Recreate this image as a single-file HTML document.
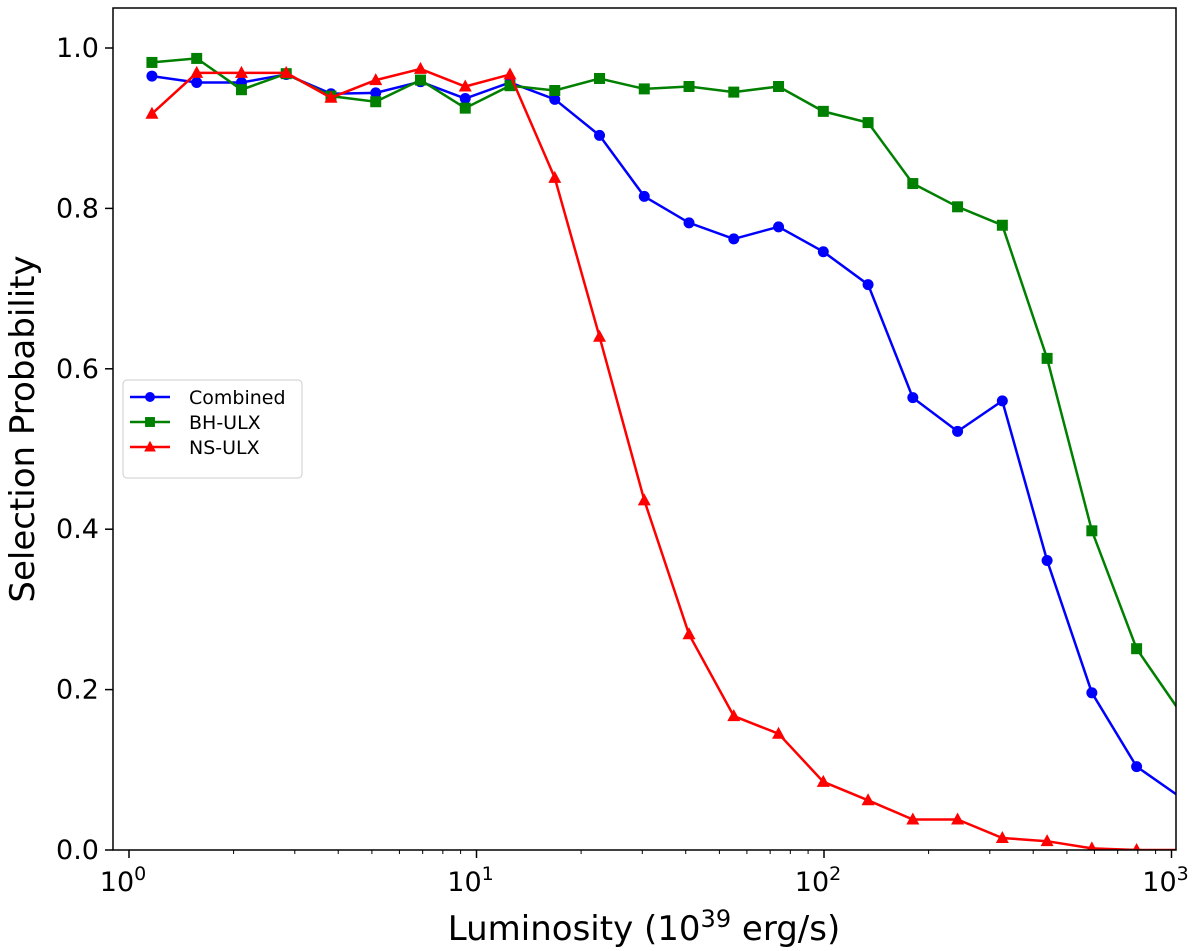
<!DOCTYPE html>
<html><head><meta charset="utf-8"><style>
html,body{margin:0;padding:0;background:#fff;}
svg{display:block;font-family:"DejaVu Sans","Liberation Sans",sans-serif;}
</style></head><body>
<svg id="chart" width="1200" height="951"></svg>
<script>
const lumExp=[];for(let i=0;i<24;i++)lumExp.push(0.066+0.1288*i);
const luminosity=lumExp.map(e=>Math.pow(10,e));
const combined=[0.965,0.957,0.957,0.967,0.943,0.944,0.958,0.937,0.957,0.936,0.891,0.815,0.782,0.762,0.777,0.746,0.705,0.564,0.522,0.560,0.361,0.196,0.104,0.065];
const bhUlx=[0.982,0.987,0.948,0.968,0.940,0.933,0.960,0.925,0.953,0.947,0.962,0.949,0.952,0.945,0.952,0.921,0.907,0.831,0.802,0.779,0.613,0.398,0.251,0.170];
const nsUlx=[0.918,0.969,0.969,0.969,0.938,0.960,0.974,0.952,0.967,0.838,0.640,0.436,0.269,0.167,0.145,0.085,0.062,0.038,0.038,0.015,0.011,0.002,0.0,0.0];
const yTicks=[0.0,0.2,0.4,0.6,0.8,1.0];
const xDecades=[0,1,2,3];

const NS="http://www.w3.org/2000/svg";
const svg=document.getElementById('chart');
const L=113,R=1176,T=8,B=850;
const x0=129,dec=347.5;
const X=v=>x0+Math.log10(v)*dec;
const Y=v=>850-v*802;
function mk(t,a,p){const e=document.createElementNS(NS,t);for(const k in a)e.setAttribute(k,a[k]);(p||svg).appendChild(e);return e;}
const defs=mk('defs',{});
const cp=mk('clipPath',{id:'clip'},defs);mk('rect',{x:L,y:T,width:R-L,height:B-T},cp);

yTicks.forEach(v=>{
 const y=Y(v);
 const t=mk('line',{x1:L-8,x2:L,y1:y,y2:y,stroke:'#000','stroke-width':1.5});
 
 
 const tx=mk('text',{x:L-14,y:y+9,'text-anchor':'end','font-size':27});
 tx.textContent=v.toFixed(1);
 
 
});
xDecades.forEach(d=>{
 const x=X(Math.pow(10,d));
 const t=mk('line',{x1:x,x2:x,y1:B,y2:B+8,stroke:'#000','stroke-width':1.5});
 
 
 const tx=mk('text',{x:x-6,y:B+41,'text-anchor':'middle','font-size':27});
 tx.textContent='10';
 const s=mk('tspan',{dy:-11,'font-size':19},tx);s.textContent=String(d);
 
 
 if(d<3)for(let m=2;m<10;m++){
  const xm=X(m*Math.pow(10,d));
  const mt=mk('line',{x1:xm,x2:xm,y1:B,y2:B+4,stroke:'#000','stroke-width':1});
  
  
 }
});

const series=[
 {name:'combined',label:'Combined',vals:combined,color:'#0000ff',mark:'circle'},
 {name:'bh-ulx',label:'BH-ULX',vals:bhUlx,color:'#008000',mark:'square'},
 {name:'ns-ulx',label:'NS-ULX',vals:nsUlx,color:'#ff0000',mark:'triangle'}];
function marker(type,x,y,c,g,s){
 s=s||1;
 if(type==='circle')return mk('circle',{cx:x,cy:y,r:5.5*s,fill:c},g);
 if(type==='square')return mk('rect',{x:x-5.5*s,y:y-5.5*s,width:11*s,height:11*s,fill:c},g);
 return mk('polygon',{points:`${x},${y-7*s} ${x+6.5*s},${y+5*s} ${x-6.5*s},${y+5*s}`,fill:c},g);
}
series.forEach(sr=>{
 const g=mk('g',{'clip-path':'url(#clip)'});
 
 
 const pts=sr.vals.map((v,i)=>X(luminosity[i]).toFixed(1)+','+Y(v).toFixed(1)).join(' ');
 const pl=mk('polyline',{points:pts,fill:'none',stroke:sr.color,'stroke-width':2.5},g);
 
 
 sr.vals.forEach((v,i)=>{
  const m=marker(sr.mark,X(luminosity[i]),Y(v),sr.color,g);
  
  
 });
});

const frame=mk('rect',{x:L,y:T,width:R-L,height:B-T,fill:'none',stroke:'#000','stroke-width':1.5});



const lg=mk('g',{});


mk('rect',{x:123,y:380,width:179,height:98,rx:4,fill:'#fff',stroke:'#ccc','stroke-width':1},lg);
series.forEach((sr,i)=>{
 const y=397+i*25;
 const e=mk('g',{},lg);
 
 
 mk('line',{x1:130,x2:170,y1:y,y2:y,stroke:sr.color,'stroke-width':2.5},e);
 marker(sr.mark,150,y,sr.color,e,0.9);
 const t=mk('text',{x:189,y:y+7,'font-size':19},e);t.textContent=sr.label;
});

const xt=mk('text',{x:644,y:940,'text-anchor':'middle','font-size':34});
xt.textContent='Luminosity (10';
const sp=mk('tspan',{dy:-13,'font-size':24},xt);sp.textContent='39';
const sp2=mk('tspan',{dy:13},xt);sp2.textContent=' erg/s)';


const yt=mk('text',{x:0,y:0,'text-anchor':'middle','font-size':34,transform:'translate(34,429) rotate(-90)'});
yt.textContent='Selection Probability';


</script>
</body></html>
